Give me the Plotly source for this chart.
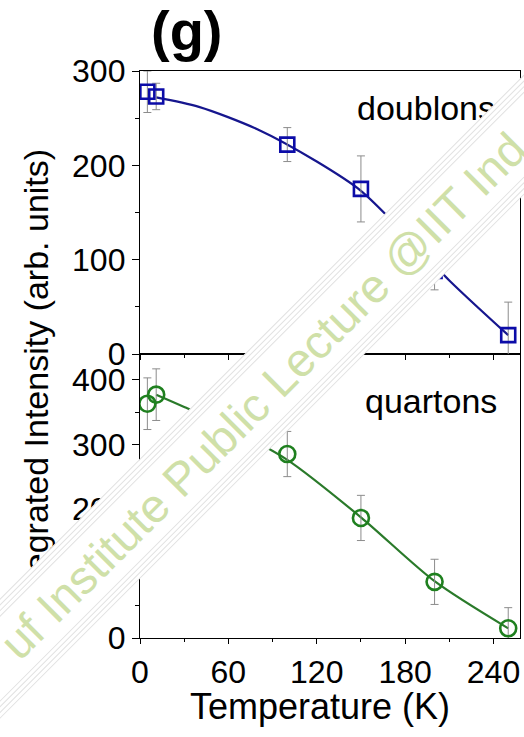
import plotly.graph_objects as go

# Data
temps = [5, 11, 100, 150, 200, 250]
doublons = [278, 273, 222, 175, 88, 20]
doublons_err = [22, 14, 18, 35, 20, 35]
quartons = [363, 377, 285, 186, 87, 15]
quartons_err = [40, 40, 35, 35, 35, 32]

# fitted curves
fit_t_doublons = [11, 40, 80, 120, 150, 180, 210, 250]
fit_doublons = [272, 262, 238, 204, 173, 127, 78, 20]
fit_t_quartons = [11, 30, 60, 100, 150, 200, 250]
fit_quartons = [377, 358, 326, 276, 187, 88, 15]

x_ticks = [0, 60, 120, 180, 240]

# page geometry
W, H = 524, 737
L, R, T, B = 140, 4, 71, 99


def px_x(x):
    return (x - L) / (W - L - R)


def px_y(y):
    return (H - B - y) / (H - T - B)


split = px_y(354)
font = 'Arial, Liberation Sans, sans-serif'
blue = '#0c0ca8'
green = '#1f801f'
err_grey = '#8c8c8c'

fig = go.Figure()

# doublons (top panel)
fig.add_trace(go.Scatter(x=fit_t_doublons, y=fit_doublons, mode='lines',
                         line=dict(color='#16168e', width=2.2, shape='spline', smoothing=0.8),
                         xaxis='x2', yaxis='y2'))
fig.add_trace(go.Scatter(x=temps, y=doublons, mode='markers',
                         marker=dict(symbol='square-open', size=14, color=blue, line=dict(width=2.6)),
                         error_y=dict(type='data', array=doublons_err, color=err_grey, thickness=1, width=4),
                         xaxis='x2', yaxis='y2'))

# quartons (bottom panel)
fig.add_trace(go.Scatter(x=fit_t_quartons, y=fit_quartons, mode='lines',
                         line=dict(color='#2a7a2a', width=2.2, shape='spline', smoothing=0.8),
                         xaxis='x', yaxis='y'))
fig.add_trace(go.Scatter(x=temps, y=quartons, mode='markers',
                         marker=dict(symbol='circle-open', size=16, color=green, line=dict(width=2.6)),
                         error_y=dict(type='data', array=quartons_err, color=err_grey, thickness=1, width=4),
                         xaxis='x', yaxis='y'))

axis_common = dict(showline=True, linecolor='black', linewidth=1.3, mirror=True,
                   ticks='outside', tickcolor='black', tickwidth=1.3,
                   showgrid=False, zeroline=False, automargin=False,
                   tickfont=dict(family=font, size=32, color='black'))

fig.update_layout(
    width=W, height=H,
    margin=dict(l=L, r=R, t=T, b=B, autoexpand=False),
    paper_bgcolor='white', plot_bgcolor='white',
    showlegend=False,
    xaxis=dict(domain=[0, 1], anchor='y', range=[0, 258], tickvals=x_ticks, ticklen=5,
               minor=dict(dtick=30, ticklen=3, ticks='outside', tickcolor='black'),
               **axis_common),
    xaxis2=dict(domain=[0, 1], anchor='y2', matches='x', tickvals=x_ticks, ticklen=5,
                showticklabels=False,
                minor=dict(dtick=30, ticklen=3, ticks='outside', tickcolor='black'),
                **axis_common),
    yaxis=dict(domain=[0, split], anchor='x', range=[0, 440], dtick=100, ticklen=7,
               minor=dict(dtick=50, ticklen=4, ticks='outside', tickcolor='black'),
               **axis_common),
    yaxis2=dict(domain=[split, 1], anchor='x2', range=[0, 300], dtick=100, ticklen=7,
                minor=dict(dtick=50, ticklen=4, ticks='outside', tickcolor='black'),
                **axis_common),
)

annotations = [
    dict(text='Integrated Intensity (arb. units)', x=px_x(36), y=px_y(380), textangle=-90,
         font=dict(family=font, size=34, color='black')),
    dict(text='Temperature (K)', x=px_x(320), y=px_y(706),
         font=dict(family=font, size=36, color='black')),
    dict(text='<b>(g)</b>', x=px_x(187), y=px_y(30),
         font=dict(family=font, size=56, color='black')),
    dict(text='doublons', x=px_x(426), y=px_y(108),
         font=dict(family=font, size=34, color='black')),
    dict(text='quartons', x=px_x(431), y=px_y(401),
         font=dict(family=font, size=34, color='black')),
]

# watermark band over the figure
mark_text = '\u00a0' * 5 + 'uf Institute Public Lecture @IIT Ind' + '\u00a0' * 5
for pad in [15, 11, 7, 3]:
    annotations.append(dict(text=mark_text, x=px_x(262), y=px_y(396), textangle=-45,
                            bgcolor='white', bordercolor='#e2e2e2', borderwidth=1, borderpad=pad,
                            font=dict(family=font, size=47, color='rgba(0,0,0,0)')))
annotations.append(dict(text=mark_text, x=px_x(262), y=px_y(396), textangle=-45,
                        font=dict(family=font, size=47, color='#cfe0a8')))

for a in annotations:
    a.update(xref='paper', yref='paper', showarrow=False, xanchor='center', yanchor='middle')
fig.update_layout(annotations=annotations)

# page body has a default 8px margin; drop it so the figure sits at the corner
fig.write_html("out.html", config={'displayModeBar': False},
               post_script="document.body.style.margin = '0';")
